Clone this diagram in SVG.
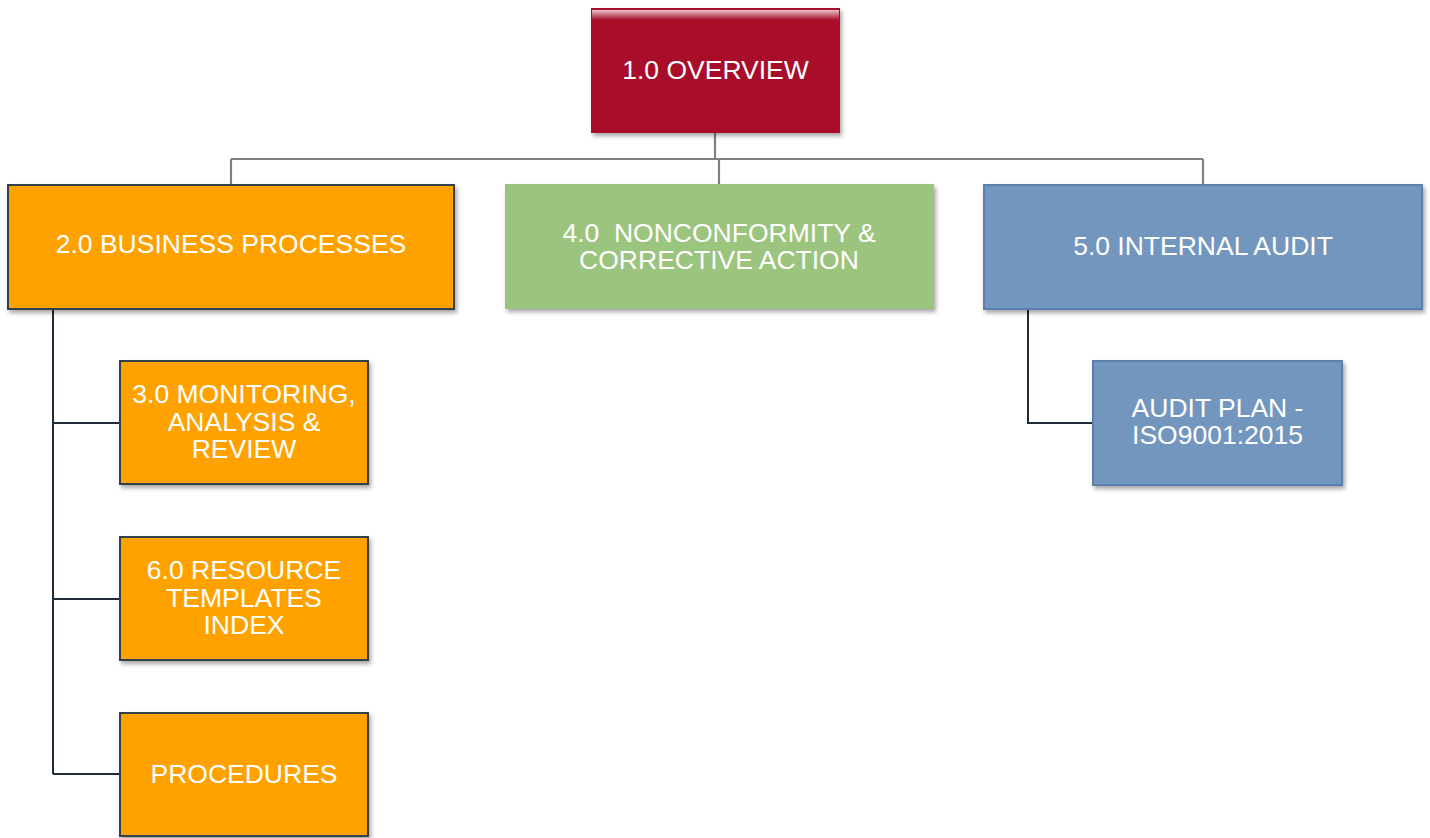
<svg xmlns="http://www.w3.org/2000/svg" width="1430" height="838" viewBox="0 0 1430 838">
<style>
  .lbl { font-family: "Liberation Sans", Arial, sans-serif; font-size: 26.5px; fill: #ffffff; text-anchor: middle; }
  .orange { fill: #FFA200; stroke: #333F4C; stroke-width: 2; }
  .green { fill: #9BC47E; }
  .blue { fill: #7396BF; stroke: #5B80AE; stroke-width: 2; }
  .red { fill: #A8072C; }
  .top { fill: none; stroke: #808080; stroke-width: 2.2; }
  .dark { fill: none; stroke: #1F2B3A; stroke-width: 2; }
</style>
<defs>
  <filter id="sh" x="-10%" y="-10%" width="125%" height="130%">
    <feDropShadow dx="2" dy="3" stdDeviation="2.2" flood-color="#000" flood-opacity="0.35"/>
  </filter>
  <linearGradient id="gloss" x1="0" y1="0" x2="0" y2="1">
    <stop offset="0" stop-color="#ffffff" stop-opacity="0.75"/>
    <stop offset="1" stop-color="#ffffff" stop-opacity="0"/>
  </linearGradient>
</defs>
<rect width="1430" height="838" fill="#ffffff"/>

<g id="connectors">
  <path class="top" d="M715 133 V159 M231 159 H1203 M231 159 V184 M719 159 V184 M1203 159 V184"/>
  <path class="dark" d="M53 309 V774 M53 423 H120 M53 599 H120 M53 774 H120"/>
  <path class="dark" d="M1028 309 V423 H1093"/>
</g>

<g id="n1">
  <rect class="red" x="591" y="8" width="249" height="125" filter="url(#sh)"/>
  <rect x="592" y="10" width="247" height="10" fill="url(#gloss)"/>
  <text class="lbl" x="715.5" y="79">1.0 OVERVIEW</text>
</g>

<g id="n2">
  <rect class="orange" x="8" y="185" width="446" height="124" filter="url(#sh)"/>
  <text class="lbl" x="231" y="253">2.0 BUSINESS PROCESSES</text>
</g>

<g id="n4">
  <rect class="green" x="505" y="184" width="429" height="125" filter="url(#sh)"/>
  <text class="lbl" x="719" y="242" xml:space="preserve">4.0  NONCONFORMITY &amp;</text>
  <text class="lbl" x="719" y="269">CORRECTIVE ACTION</text>
</g>

<g id="n5">
  <rect class="blue" x="984" y="185" width="438" height="124" filter="url(#sh)"/>
  <text class="lbl" x="1203" y="255">5.0 INTERNAL AUDIT</text>
</g>

<g id="n_audit">
  <rect class="blue" x="1093" y="361" width="249" height="124" filter="url(#sh)"/>
  <text class="lbl" x="1217.5" y="417">AUDIT PLAN -</text>
  <text class="lbl" x="1217.5" y="444">ISO9001:2015</text>
</g>

<g id="n3">
  <rect class="orange" x="120" y="361" width="248" height="123" filter="url(#sh)"/>
  <text class="lbl" x="244" y="403">3.0 MONITORING,</text>
  <text class="lbl" x="244" y="431">ANALYSIS &amp;</text>
  <text class="lbl" x="244" y="458">REVIEW</text>
</g>

<g id="n6">
  <rect class="orange" x="120" y="537" width="248" height="123" filter="url(#sh)"/>
  <text class="lbl" x="244" y="579">6.0 RESOURCE</text>
  <text class="lbl" x="244" y="607">TEMPLATES</text>
  <text class="lbl" x="244" y="634">INDEX</text>
</g>

<g id="n_proc">
  <rect class="orange" x="120" y="713" width="248" height="123" filter="url(#sh)"/>
  <text class="lbl" x="244" y="783">PROCEDURES</text>
</g>
</svg>
